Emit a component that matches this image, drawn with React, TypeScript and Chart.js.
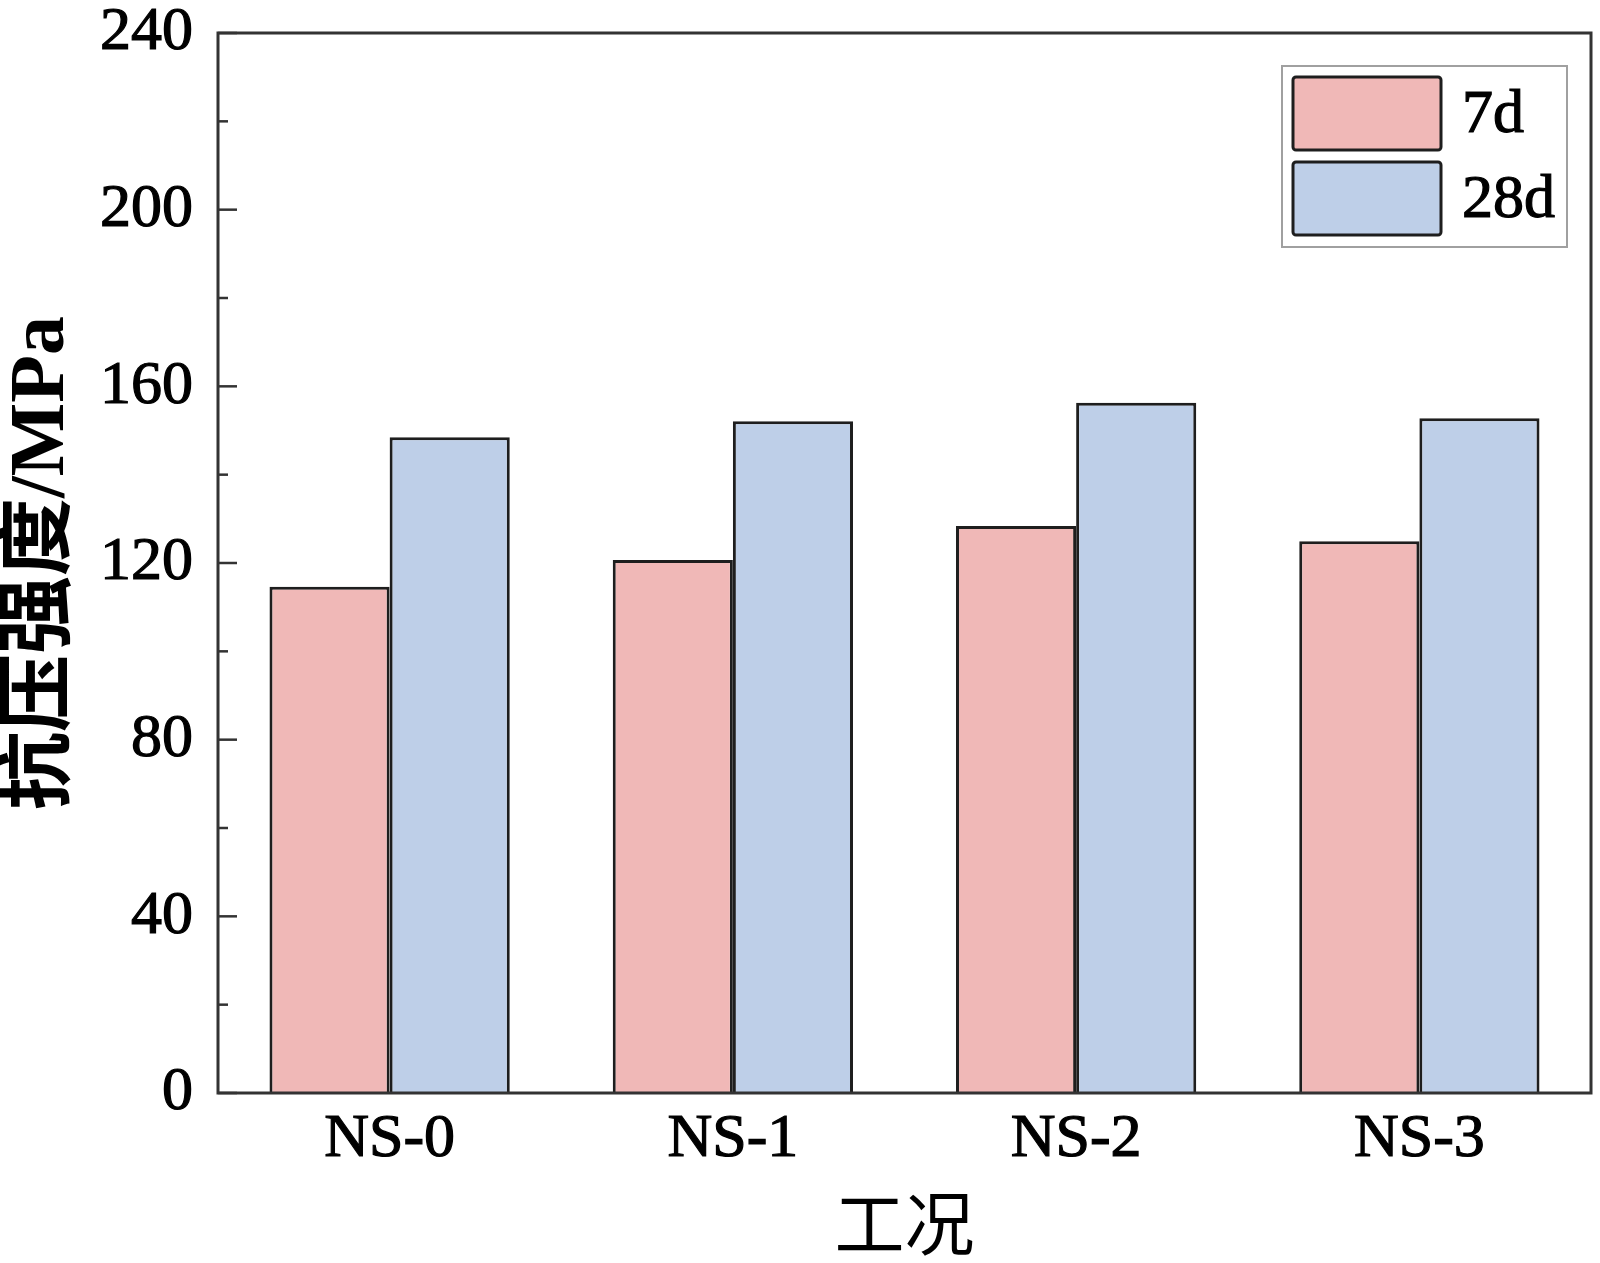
import React, { useEffect, useRef } from 'react';
import { Chart, registerables } from 'chart.js';

Chart.register(...registerables);

const categories = ['NS-0', 'NS-1', 'NS-2', 'NS-3'];
const seriesNames = ['7d', '28d'];
const strength7d = [114.6, 120.7, 128.4, 124.9];
const strength28d = [148.5, 152.1, 156.3, 152.8];
const yMin = 0;
const yMax = 240;
const yStep = 40;
const yTitle = '抗压强度/MPa';
const xTitle = '工况';

const fillColors = ['#F0B8B7', '#BECFE8'];
const edgeColor = '#1e1e1e';
const axisColor = '#333333';

const W = 1600;
const H = 1263;

const framePlugin = {
  id: 'frameAndLegend',
  afterDatasetsDraw(chart: any) {
    const { ctx, chartArea: a, scales } = chart;
    const y = scales.y;
    ctx.save();
    ctx.strokeStyle = axisColor;
    ctx.lineCap = 'butt';
    ctx.lineWidth = 2.5;
    const ticks = y.ticks;
    ticks.forEach((t: any, i: number) => {
      const py = y.getPixelForValue(t.value);
      ctx.beginPath();
      ctx.moveTo(a.left, py);
      ctx.lineTo(a.left + 19, py);
      ctx.stroke();
      if (i < ticks.length - 1) {
        const mid = (t.value + ticks[i + 1].value) / 2;
        const pm = y.getPixelForValue(mid);
        ctx.beginPath();
        ctx.moveTo(a.left, pm);
        ctx.lineTo(a.left + 10, pm);
        ctx.stroke();
      }
    });
    ctx.lineWidth = 3;
    ctx.strokeRect(a.left, a.top, a.right - a.left, a.bottom - a.top);

    // legend
    const boxW = 285;
    const boxH = 181;
    const bx = a.right - 24 - boxW;
    const by = a.top + 33;
    ctx.strokeStyle = '#a0a0a0';
    ctx.lineWidth = 2;
    ctx.strokeRect(bx, by, boxW, boxH);
    chart.data.datasets.forEach((ds: any, i: number) => {
      const sx = bx + 11;
      const sy = by + 11 + i * 85;
      const sw = 148;
      const sh = 73;
      ctx.beginPath();
      (ctx as any).roundRect(sx, sy, sw, sh, 3);
      ctx.fillStyle = ds.backgroundColor;
      ctx.fill();
      ctx.lineWidth = 3;
      ctx.strokeStyle = edgeColor;
      ctx.stroke();
      ctx.fillStyle = '#000';
      ctx.strokeStyle = '#000';
      ctx.lineWidth = 1.2;
      ctx.font = '62px "Liberation Serif"';
      ctx.textAlign = 'left';
      ctx.textBaseline = 'middle';
      ctx.fillText(ds.label, sx + sw + 21, sy + sh / 2 + 2);
      ctx.strokeText(ds.label, sx + sw + 21, sy + sh / 2 + 2);
    });
    ctx.restore();
  },
};

export default function App() {
  const ref = useRef<HTMLCanvasElement | null>(null);
  useEffect(() => {
    if (!ref.current) return;
    const chart = new Chart(ref.current, {
      type: 'bar',
      data: {
        labels: categories,
        datasets: [
          {
            label: seriesNames[0],
            data: strength7d,
            backgroundColor: fillColors[0],
            borderColor: edgeColor,
            borderWidth: 3,
            categoryPercentage: 0.7,
            barPercentage: 1.0,
          },
          {
            label: seriesNames[1],
            data: strength28d,
            backgroundColor: fillColors[1],
            borderColor: edgeColor,
            borderWidth: 3,
            categoryPercentage: 0.7,
            barPercentage: 1.0,
          },
        ],
      },
      options: {
        responsive: false,
        animation: false,
        devicePixelRatio: 1,
        layout: { padding: { top: 33, right: 9, left: 0, bottom: 0 } },
        plugins: {
          legend: { display: false },
          tooltip: { enabled: false },
        },
        scales: {
          x: {
            grid: { display: false, drawTicks: false },
            border: { display: false },
            ticks: {
              color: '#000',
              padding: 10,
              textStrokeColor: '#000',
              textStrokeWidth: 1.2,
              font: { family: '"Liberation Serif"', size: 62 },
            },
            title: {
              display: true,
              text: xTitle,
              color: '#000',
              font: { family: '"Noto Sans CJK SC"', size: 70, lineHeight: 1 },
              padding: { top: 0, bottom: 5 },
            },
            afterFit(scale: any) {
              scale.height = H - 1093;
              scale.paddingLeft = 0;
              scale.paddingRight = 0;
            },
          },
          y: {
            min: yMin,
            max: yMax,
            grid: { display: false, drawTicks: false },
            border: { display: false },
            ticks: {
              stepSize: yStep,
              color: '#000',
              padding: 25,
              textStrokeColor: '#000',
              textStrokeWidth: 1.2,
              font: { family: '"Liberation Serif"', size: 62 },
            },
            title: {
              display: true,
              text: yTitle,
              color: '#000',
              font: { family: '"Liberation Serif", "Noto Sans CJK SC"', size: 78, weight: 'bold', lineHeight: 1 },
              padding: { top: 4, bottom: 0 },
            },
            afterFit(scale: any) {
              scale.width = 218;
              scale.paddingTop = 0;
              scale.paddingBottom = 0;
            },
          },
        },
      },
      plugins: [framePlugin],
    });
    return () => chart.destroy();
  }, []);
  return (
    <div style={{ position: 'fixed', left: 0, top: 0, width: W, height: H, background: '#fff' }}>
      <canvas ref={ref} width={W} height={H} style={{ display: 'block', width: W, height: H }} />
    </div>
  );
}
